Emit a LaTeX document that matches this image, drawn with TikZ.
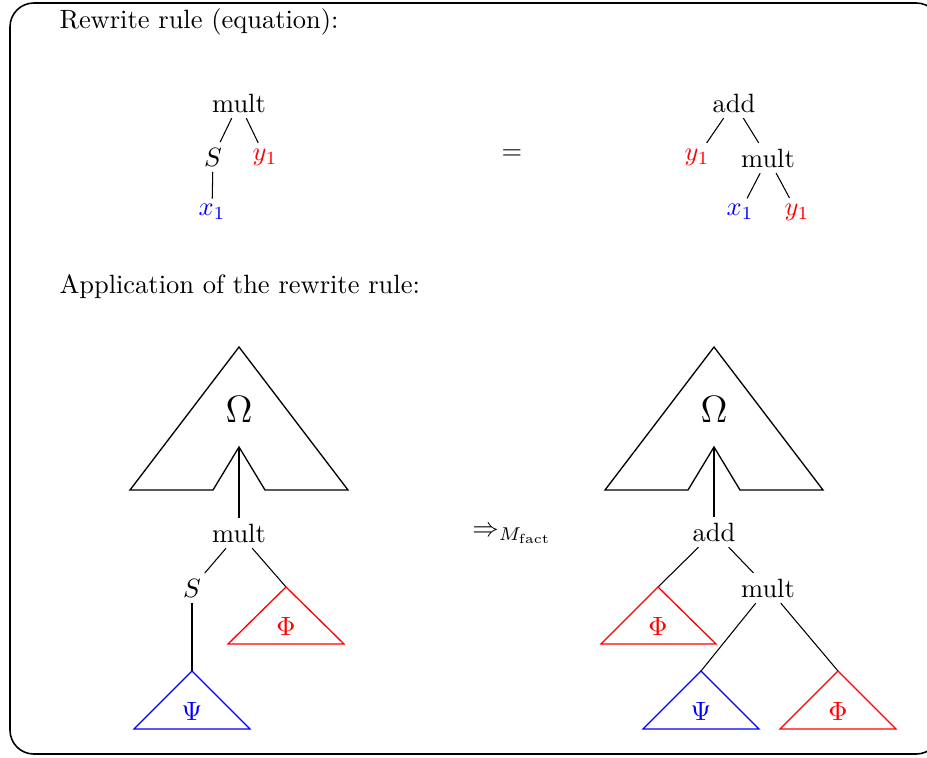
\documentclass[tikz,border=0pt]{standalone}
\usepackage{amsmath}
\begin{document}
\begin{tikzpicture}[x=0.378pt,y=-0.378pt,
  lbl/.style={inner sep=2pt},
  edge/.style={draw=black,line width=0.4pt},
  tri/.style={line width=0.5pt},
  omshape/.style={line width=0.5pt}]
\useasboundingbox (0,0) rectangle (927,757);
\draw[rounded corners=9pt,line width=0.6pt] (10,3) rectangle (940,754);

\node[anchor=base west,inner sep=0] (t1) at (59,29) {Rewrite rule (equation):};
\node[anchor=base west,inner sep=0] (t2) at (59,293) {Application of the rewrite rule:};

% top-left tree
\node[lbl] (m1) at (239,103) {mult};
\node[lbl] (s1) at (213,157) {$S$};
\node[lbl,text=red] (y1a) at (265,157) {$y_1$};
\node[lbl,text=blue] (x1a) at (212,212) {$x_1$};
\draw[edge] (m1) -- (s1);
\draw[edge] (m1) -- (y1a);
\draw[edge] (s1) -- (x1a);

\node (eq) at (512,155) {$=$};

% top-right tree
\node[lbl] (a1) at (734,103) {add};
\node[lbl,text=red] (y1b) at (697,157) {$y_1$};
\node[lbl] (m2) at (768,158) {mult};
\node[lbl,text=blue] (x1b) at (740,212) {$x_1$};
\node[lbl,text=red] (y1c) at (797,212) {$y_1$};
\draw[edge] (a1) -- (y1b);
\draw[edge] (a1) -- (m2);
\draw[edge] (m2) -- (x1b);
\draw[edge] (m2) -- (y1c);

% left Omega
\draw[omshape] (130,490) -- (239,347) -- (348,490) -- (265,490) -- (239,447) -- (213,490) -- cycle;
\node (omL) at (239,409) {\Large $\Omega$};
\coordinate (nL) at (239,447);
\node[lbl] (m3) at (239,533) {mult};
\node[lbl] (s2) at (192,588) {$S$};
\coordinate (phiL) at (286,587);
\coordinate (psiL) at (192,671);
\draw[edge] (nL) -- (m3);
\draw[edge] (m3) -- (s2);
\draw[edge] (m3) -- (phiL);
\draw[edge] (s2) -- (psiL);
\draw[tri,red] (phiL) -- (344,644) -- (228,644) -- cycle;
\node[text=red] (phiLt) at (286,626) {$\Phi$};
\draw[tri,blue] (psiL) -- (250,729) -- (134,729) -- cycle;
\node[text=blue] (psiLt) at (192,711) {$\Psi$};

\node (arr) at (512,535) {$\Rightarrow_{M_{\mathrm{fact}}}$};

% right Omega
\draw[omshape] (605,490) -- (714,347) -- (823,490) -- (740,490) -- (714,447) -- (688,490) -- cycle;
\node (omR) at (714,409) {\Large $\Omega$};
\coordinate (nR) at (714,447);
\node[lbl] (a2) at (714,532) {add};
\node[lbl] (m4) at (768,588) {mult};
\coordinate (phiR1) at (658,587);
\coordinate (psiR) at (701,671);
\coordinate (phiR2) at (838,671);
\draw[edge] (nR) -- (a2);
\draw[edge] (a2) -- (phiR1);
\draw[edge] (a2) -- (m4);
\draw[edge] (m4) -- (psiR);
\draw[edge] (m4) -- (phiR2);
\draw[tri,red] (phiR1) -- (716,644) -- (601,644) -- cycle;
\node[text=red] (phiR1t) at (658,626) {$\Phi$};
\draw[tri,blue] (psiR) -- (759,729) -- (643,729) -- cycle;
\node[text=blue] (psiRt) at (701,711) {$\Psi$};
\draw[tri,red] (phiR2) -- (896,729) -- (780,729) -- cycle;
\node[text=red] (phiR2t) at (838,711) {$\Phi$};
\end{tikzpicture}
\end{document}
